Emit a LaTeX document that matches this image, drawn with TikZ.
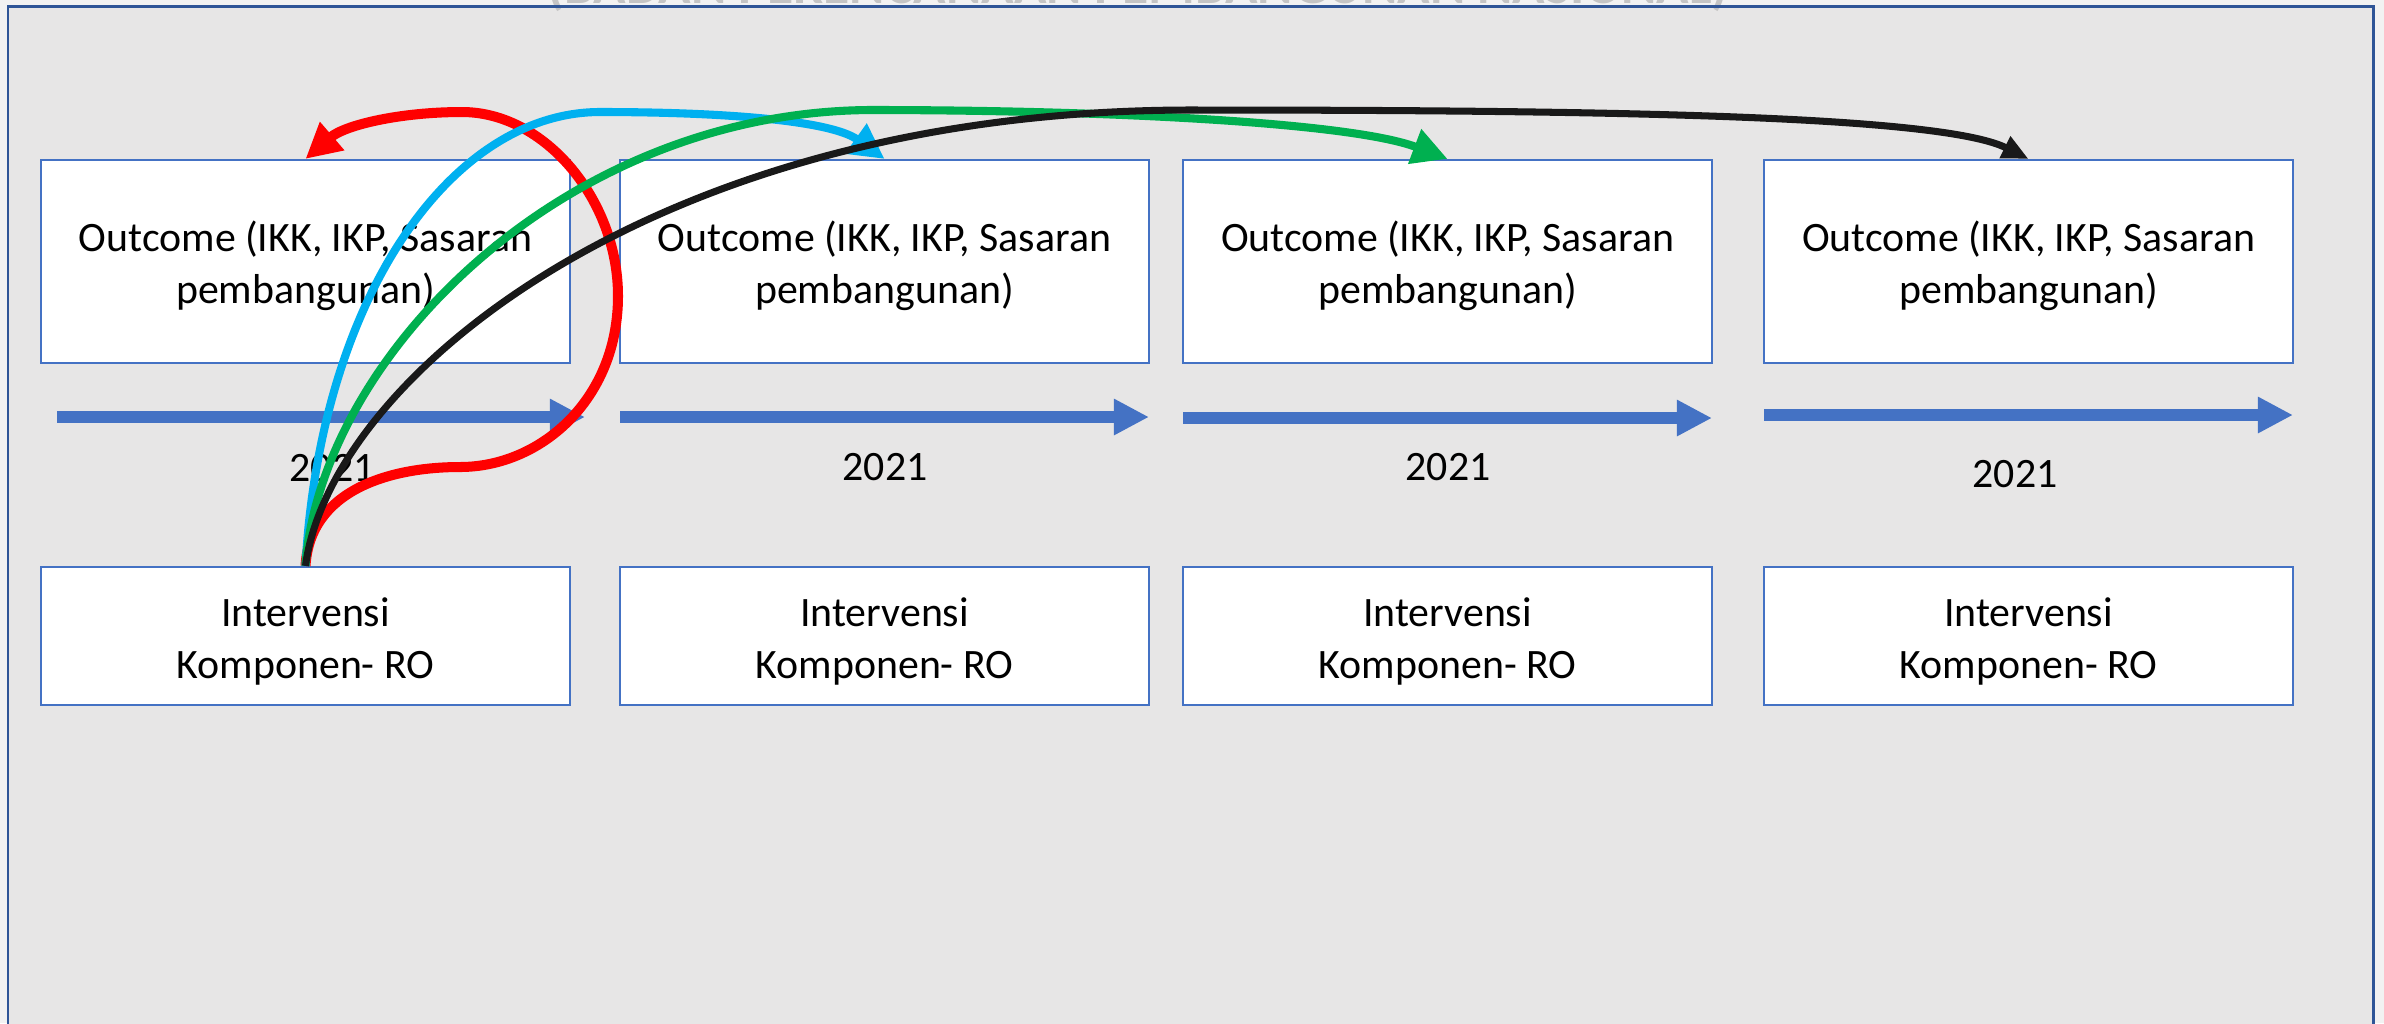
\documentclass[tikz,border=0pt]{standalone}
\usepackage{fontspec}
\setmainfont{Carlito}
\usetikzlibrary{arrows.meta}
\definecolor{bg}{HTML}{E7E6E6}
\definecolor{outside}{HTML}{F2F2F2}
\definecolor{framec}{HTML}{2F5597}
\definecolor{boxc}{HTML}{4472C4}
\definecolor{redc}{HTML}{FF0000}
\definecolor{bluec}{HTML}{00B0F0}
\definecolor{greenc}{HTML}{00B050}
\definecolor{blackc}{HTML}{191919}
\definecolor{titlec}{HTML}{C4C4C4}
\newcommand\twoline[2]{\raisebox{-0.06cm}[\height][\depth]{\setlength\tabcolsep{0pt}\begin{tabular}{c}#1\\#2\end{tabular}}}
\begin{document}
\begin{tikzpicture}[x=0.01cm,y=-0.01cm,
  outbox/.style={draw=boxc, line width=0.6pt, fill=white, minimum width=5.29cm,
    minimum height=2.03cm, inner sep=0pt,
    font=\fontsize{11.9}{14.8}\selectfont},
  intbox/.style={outbox, minimum height=1.38cm},
  yearlbl/.style={inner sep=0pt, font=\fontsize{11.9}{14.8}\selectfont},
  timeline/.style={draw=boxc, line width=3.4pt, -{Triangle[length=10pt,width=9.7pt]}},
  bigtip/.style={-{Triangle[length=10pt,width=10pt]}},
]
\clip (0,0) rectangle (2384,1023);
\fill[outside] (0,0) rectangle (2384,1023);
\fill[bg] (8,6) rectangle (2373,1040);
\node[anchor=base, text=titlec, inner sep=0pt] (title) at (1138,3.5)
  {\resizebox{11.8cm}{!}{\bfseries (BADAN PERENCANAAN PEMBANGUNAN NASIONAL)}};
\draw[framec, line width=0.85pt] (8,1040) -- (8,6) -- (2373,6) -- (2373,1040);

% outcome boxes
\node[outbox] (o1) at (305.5,261.5) {\twoline{Outcome (IKK, IKP, Sasaran}{pembangunan)}};
\node[outbox] (o2) at (884.5,261.5) {\twoline{Outcome (IKK, IKP, Sasaran}{pembangunan)}};
\node[outbox] (o3) at (1447.5,261.5) {\twoline{Outcome (IKK, IKP, Sasaran}{pembangunan)}};
\node[outbox] (o4) at (2028.5,261.5) {\twoline{Outcome (IKK, IKP, Sasaran}{pembangunan)}};

% intervention boxes
\node[intbox] (i1) at (305.5,636) {\twoline{Intervensi}{Komponen- RO}};
\node[intbox] (i2) at (884.5,636) {\twoline{Intervensi}{Komponen- RO}};
\node[intbox] (i3) at (1447.5,636) {\twoline{Intervensi}{Komponen- RO}};
\node[intbox] (i4) at (2028.5,636) {\twoline{Intervensi}{Komponen- RO}};

% timeline arrows
\coordinate (t1s) at (57,417);   \coordinate (t1e) at (585,417);
\coordinate (t2s) at (620,417);  \coordinate (t2e) at (1149,417);
\coordinate (t3s) at (1183,418); \coordinate (t3e) at (1712,418);
\coordinate (t4s) at (1764,415); \coordinate (t4e) at (2293,415);
\draw[timeline] (t1s) -- (t1e);
\draw[timeline] (t2s) -- (t2e);
\draw[timeline] (t3s) -- (t3e);
\draw[timeline] (t4s) -- (t4e);

% year labels
\node[yearlbl] (y1) at (332,468) {2021};
\node[yearlbl] (y2) at (885,467) {2021};
\node[yearlbl] (y3) at (1448,467) {2021};
\node[yearlbl] (y4) at (2015,474) {2021};

% curved links
\draw[redc, line width=2.85pt, bigtip] (i1.north)
  .. controls (310,490) and (390,467) .. (460,467)
  .. controls (540,467) and (618,400) .. (618,296)
  .. controls (618,200) and (545,112) .. (462,112)
  .. controls (400,112) and (345,125) .. (o1.north);
\draw[bluec, line width=2.3pt, bigtip] (i1.north)
  .. controls (320,300) and (450,112) .. (600,112)
  .. controls (720,112) and (830,120) .. (o2.north);
\draw[greenc, line width=2.3pt, bigtip] (i1.north)
  .. controls (320,360) and (560,112) .. (870,110)
  .. controls (1100,110) and (1350,122) .. (o3.north);
\draw[blackc, line width=2pt, -{Triangle[length=7.5pt,width=6.5pt]}] (i1.north)
  .. controls (330,380) and (650,112) .. (1186,110)
  .. controls (1600,110) and (1940,115) .. (o4.north);
\end{tikzpicture}
\end{document}
